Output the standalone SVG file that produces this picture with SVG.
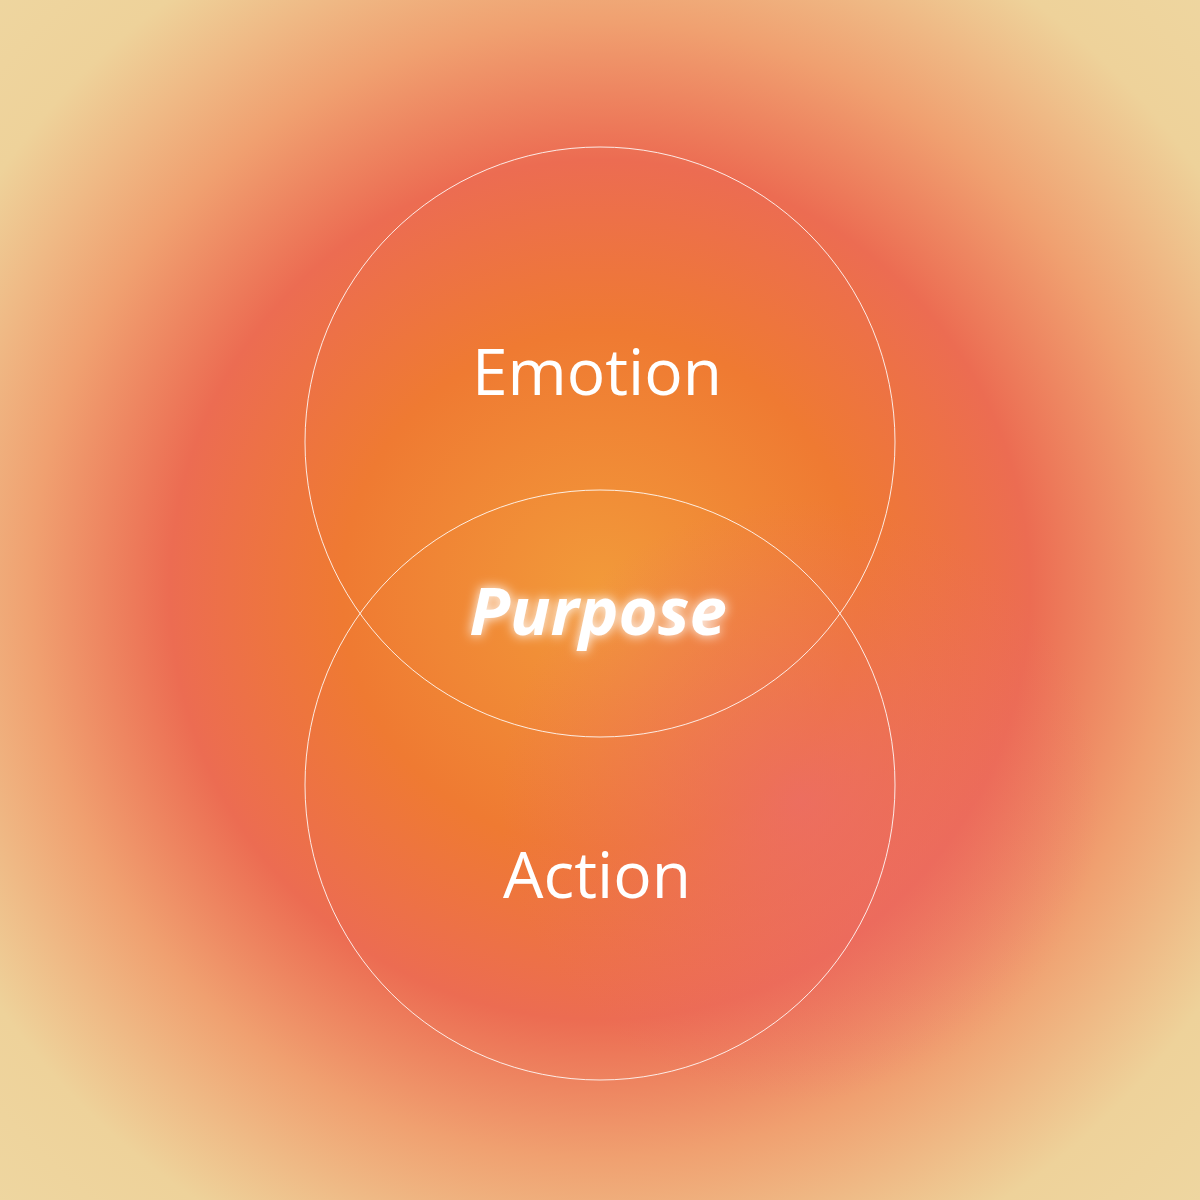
<svg xmlns="http://www.w3.org/2000/svg" width="1200" height="1200" viewBox="0 0 1200 1200">
<defs>
<radialGradient id="bg" cx="600" cy="590" r="860" gradientUnits="userSpaceOnUse">
<stop offset="0" stop-color="#f29a3a"/>
<stop offset="0.3" stop-color="#ef7a32"/>
<stop offset="0.5" stop-color="#ec6c52"/>
<stop offset="0.66" stop-color="#f0a070"/>
<stop offset="0.85" stop-color="#eed29a"/>
<stop offset="1" stop-color="#eed6a0"/>
</radialGradient>
<radialGradient id="pink" cx="800" cy="800" r="300" gradientUnits="userSpaceOnUse">
<stop offset="0" stop-color="#ec6a70" stop-opacity="0.7"/>
<stop offset="1" stop-color="#ec6a70" stop-opacity="0"/>
</radialGradient>
<filter id="glow" x="-30%" y="-50%" width="160%" height="200%">
<feGaussianBlur in="SourceGraphic" stdDeviation="6" result="b"/>
<feMerge><feMergeNode in="b"/><feMergeNode in="SourceGraphic"/></feMerge>
</filter>
<style>
.c{fill:none;stroke:#fff;stroke-width:1;stroke-opacity:0.85}
.t{fill:#fff;font-family:"Open Sans","Liberation Sans",sans-serif;font-size:64px;text-anchor:middle}
.p{fill:#fff;font-family:"Open Sans","Liberation Sans",sans-serif;font-size:67px;font-weight:700;font-style:italic;text-anchor:middle}
</style>
</defs>
<rect width="1200" height="1200" fill="url(#bg)"/>
<rect width="1200" height="1200" fill="url(#pink)"/>
<g id="emotion"><circle class="c" cx="600" cy="442" r="295"/><text class="t" x="597" y="395">Emotion</text></g>
<g id="action"><circle class="c" cx="600" cy="785" r="295"/><text class="t" x="597" y="898">Action</text></g>
<g id="purpose"><text class="p" x="598" y="635" filter="url(#glow)">Purpose</text></g>
<g id="connectors"></g>
</svg>
